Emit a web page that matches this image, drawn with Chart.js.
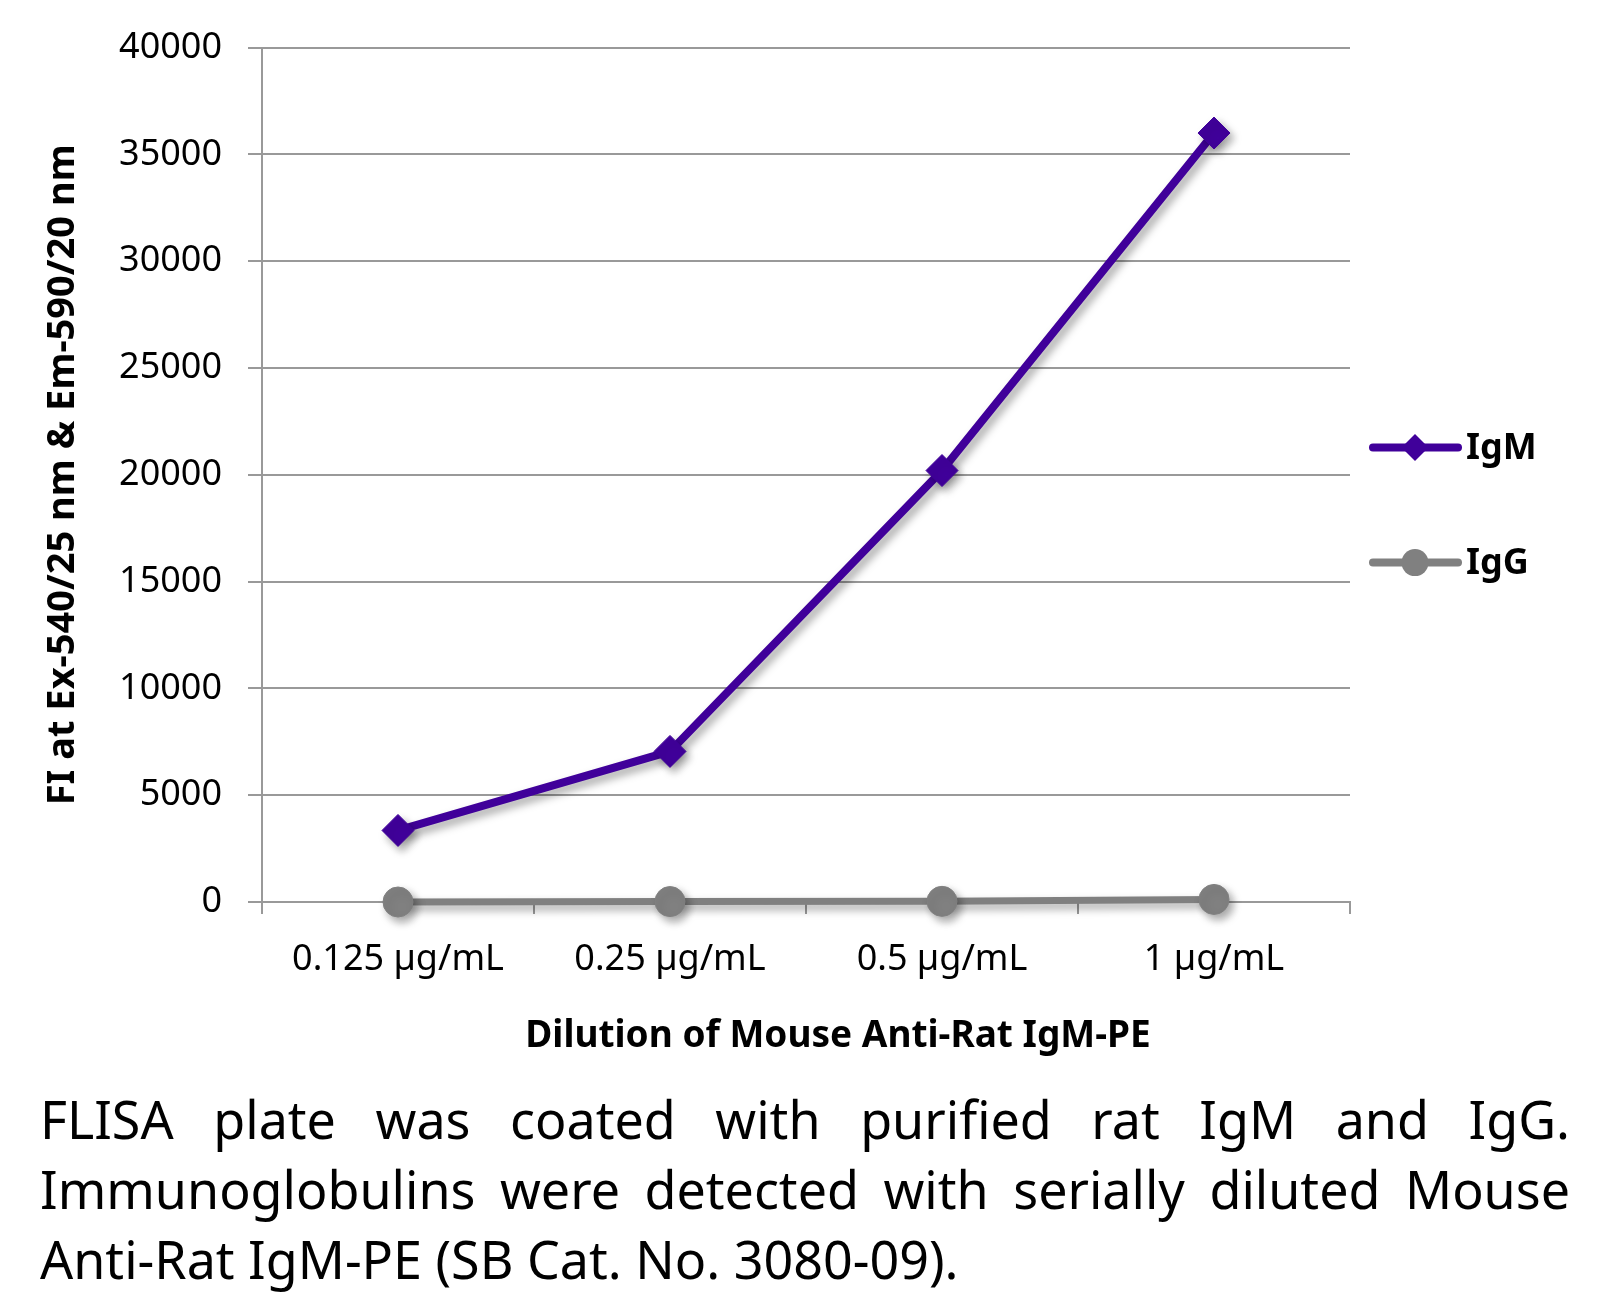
<!DOCTYPE html>
<html>
<head>
<meta charset="utf-8">
<script src="https://cdn.jsdelivr.net/npm/chart.js@4.4.1/dist/chart.umd.min.js"></script>
<style>
  html, body { margin: 0; padding: 0; background: #fff; }
  #wrap { position: absolute; left: 0; top: 0; width: 1618px; height: 1090px; }
  #caption {
    position: absolute; left: 40px; top: 1084px; width: 1530px;
    font-family: "Noto Sans", sans-serif; font-size: 52px; line-height: 70px; color: #000;
  }
  #caption .just { text-align: justify; text-align-last: justify; }
</style>
</head>
<body>
<div id="wrap"><canvas id="chart"></canvas></div>
<div id="caption">
  <div class="just">FLISA plate was coated with purified rat IgM and IgG.</div>
  <div class="just">Immunoglobulins were detected with serially diluted Mouse</div>
  <div>Anti-Rat IgM-PE (SB Cat. No. 3080-09).</div>
</div>
<script>
const categories = ['0.125 µg/mL', '0.25 µg/mL', '0.5 µg/mL', '1 µg/mL'];
const igmValues = [3350, 7050, 20200, 36000];
const iggValues = [0, 20, 30, 120];
const yMin = 0;
const yMax = 40000;
const yStep = 5000;
const xTitle = 'Dilution of Mouse Anti-Rat IgM-PE';
const yTitle = 'FI at Ex-540/25 nm & Em-590/20 nm';

const gridColor = '#999999';

Chart.defaults.font.family = '"Noto Sans", sans-serif';
Chart.defaults.color = '#000';

// soft drop shadow under lines and markers, like the Excel original
const shadowPlugin = {
  id: 'shadow',
  beforeDatasetDraw(chart) {
    const ctx = chart.ctx;
    ctx.save();
    ctx.shadowColor = 'rgba(0,0,0,0.35)';
    ctx.shadowBlur = 8;
    ctx.shadowOffsetX = 4;
    ctx.shadowOffsetY = 5;
  },
  afterDatasetDraw(chart) {
    chart.ctx.restore();
  }
};

// legend on the right (line + marker + bold label) and the x axis title
const sidePlugin = {
  id: 'side',
  afterDraw(chart) {
    const { ctx, chartArea } = chart;
    ctx.save();
    chart.data.datasets.forEach((ds, i) => {
      const x0 = chartArea.right + 23;
      const y = chartArea.top + 400 + i * 115;
      ctx.strokeStyle = ds.borderColor;
      ctx.lineWidth = 8;
      ctx.lineCap = 'round';
      ctx.beginPath();
      ctx.moveTo(x0, y);
      ctx.lineTo(x0 + 85, y);
      ctx.stroke();
      const cx = x0 + 42;
      const r = 13.5;
      ctx.fillStyle = ds.borderColor;
      ctx.beginPath();
      if (ds.pointStyle === 'rectRot') {
        ctx.moveTo(cx - r, y);
        ctx.lineTo(cx, y - r);
        ctx.lineTo(cx + r, y);
        ctx.lineTo(cx, y + r);
        ctx.closePath();
      } else {
        ctx.arc(cx, y, r, 0, Math.PI * 2);
      }
      ctx.fill();
      ctx.fillStyle = '#000';
      ctx.font = 'bold 36px "Noto Sans", sans-serif';
      ctx.textAlign = 'left';
      ctx.textBaseline = 'middle';
      ctx.fillText(ds.label, x0 + 93, y + 1);
    });
    ctx.font = 'bold 37px "Noto Sans", sans-serif';
    ctx.textAlign = 'center';
    ctx.textBaseline = 'middle';
    ctx.fillText(xTitle, (chartArea.left + chartArea.right) / 2 + 32, 1036);
    ctx.restore();
  }
};

new Chart(document.getElementById('chart'), {
  type: 'line',
  data: {
    labels: categories,
    datasets: [
      {
        label: 'IgM',
        data: igmValues,
        borderColor: '#40009a',
        backgroundColor: '#40009a',
        borderWidth: 8,
        pointStyle: 'rectRot',
        pointRadius: 16,
        pointBorderWidth: 1,
        tension: 0,
        clip: false
      },
      {
        label: 'IgG',
        data: iggValues,
        borderColor: '#808080',
        backgroundColor: '#808080',
        borderWidth: 7,
        pointStyle: 'circle',
        pointRadius: 15,
        pointBorderWidth: 1,
        tension: 0,
        clip: false
      }
    ]
  },
  options: {
    responsive: true,
    maintainAspectRatio: false,
    devicePixelRatio: 1,
    animation: false,
    layout: { padding: { left: 0, right: 268, top: 47, bottom: 0 } },
    plugins: {
      legend: { display: false },
      tooltip: { enabled: false }
    },
    scales: {
      x: {
        offset: true,
        grid: {
          offset: true,
          drawOnChartArea: false,
          drawTicks: true,
          tickLength: 12,
          color: gridColor,
          lineWidth: 2
        },
        border: { display: true, color: gridColor, width: 2 },
        ticks: { font: { size: 36 }, padding: 24, color: '#000' },
        afterFit(scale) { scale.height = 188; }
      },
      y: {
        min: yMin,
        max: yMax,
        ticks: {
          stepSize: yStep,
          font: { size: 36 },
          padding: 26,
          color: '#000',
          callback: (v) => String(v)
        },
        grid: { color: gridColor, lineWidth: 2, tickLength: 14 },
        border: { display: true, color: gridColor, width: 2 },
        title: {
          display: true,
          text: yTitle,
          font: { size: 38, weight: 'bold' },
          color: '#000',
          padding: { top: 40, bottom: 0 }
        },
        afterFit(scale) { scale.width = 262; }
      }
    }
  },
  plugins: [shadowPlugin, sidePlugin]
});
</script>
</body>
</html>
